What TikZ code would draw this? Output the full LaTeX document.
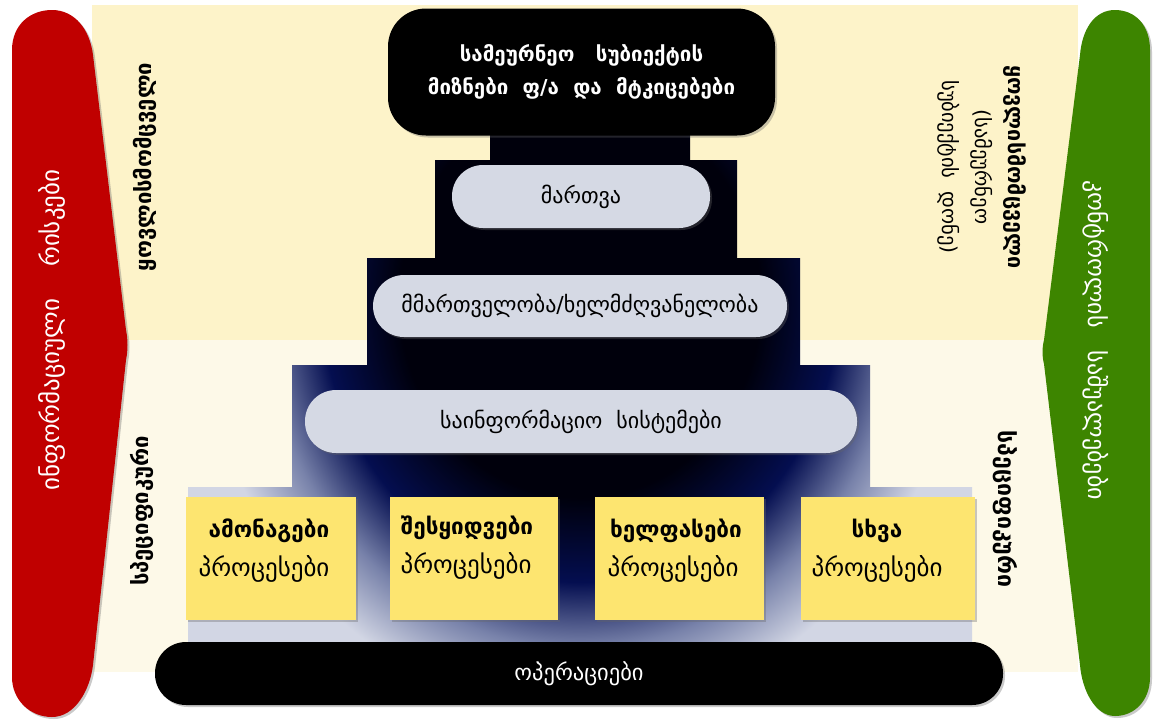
\documentclass[tikz,border=0pt]{standalone}
\usepackage{fontspec}
\setmainfont{DejaVu Sans}
\usetikzlibrary{shadows}
\definecolor{bandtop}{RGB}{253,243,201}
\definecolor{bandbot}{RGB}{253,249,232}
\definecolor{riskred}{RGB}{192,0,0}
\definecolor{ctrlgreen}{RGB}{61,133,0}
\definecolor{pillgray}{RGB}{213,217,228}
\definecolor{boxyellow}{RGB}{253,229,112}
\definecolor{pyrA}{RGB}{0,0,12}
\definecolor{pyrB}{RGB}{4,14,80}
\definecolor{pyrM}{RGB}{120,130,170}
\definecolor{pyrC}{RGB}{210,214,228}
\pgfdeclareradialshading{pyr}{\pgfpoint{0bp}{0bp}}{color(0bp)=(pyrA); color(10.5bp)=(pyrA); color(15bp)=(pyrB); color(18.5bp)=(pyrM); color(22bp)=(pyrC); color(50bp)=(pyrC)}
\tikzset{
  shad/.style={drop shadow={shadow xshift=2pt,shadow yshift=-2pt,opacity=0.35,fill=black!60}},
  blackbox/.style={fill=black, shad, text=white, align=center, inner sep=0pt},
  pill/.style={fill=pillgray, shad, rounded corners=31pt, inner sep=0pt, font=\fontsize{22}{26}\selectfont},
  ybox/.style={fill=boxyellow, shad, inner sep=0pt, minimum height=123pt},
  btxt/.style={font=\fontsize{22.5}{26}\selectfont\bfseries},
  rtxt/.style={font=\fontsize{25}{28}\selectfont},
  vtxt/.style={font=\fontsize{22}{26}\selectfont\bfseries, inner sep=0pt},
}
\begin{document}
\begin{tikzpicture}[x=1pt,y=-1pt]
\useasboundingbox (0,0) rectangle (1155,720);
% background bands
\fill[bandtop] (92,5) rectangle (1078,340);
\fill[bandbot] (92,340) rectangle (1078,672);
% pyramid
\begin{scope}
\clip (490,130) -- (690,130) -- (690,160) -- (737,160) -- (737,258) -- (800,258) -- (800,365) -- (870,365) -- (870,487) -- (972,487) -- (972,645) -- (188,645) -- (188,487) -- (292,487) -- (292,365) -- (367,365) -- (367,258) -- (435,258) -- (435,160) -- (490,160) -- cycle;
\shade[shading=pyr] (150,-170) rectangle (1010,770);
\end{scope}
% red and green side shapes
\path[fill=riskred, shad] (12,50) .. controls (12,25) and (30,10) .. (52,10) .. controls (75,10) and (90,30) .. (93,55) -- (126,330) .. controls (128,340) and (128,350) .. (126,360) -- (93,665) .. controls (90,690) and (75,717) .. (52,717) .. controls (30,717) and (12,700) .. (12,677) -- cycle;
\path[fill=ctrlgreen, shad] (1150,50) .. controls (1150,25) and (1135,10) .. (1115,10) .. controls (1094,10) and (1082,30) .. (1080,55) -- (1044,340) .. controls (1042,348) and (1042,356) .. (1044,364) -- (1080,665) .. controls (1082,690) and (1095,716) .. (1115,716) .. controls (1135,716) and (1150,700) .. (1150,677) -- cycle;
% top goal box
\node[blackbox, rounded corners=38pt, minimum width=387pt, minimum height=127pt, font=\fontsize{20.5}{33}\selectfont\bfseries] (goal) at (581.5,72) {სამეურნეო\ \ \ სუბიექტის\\მიზნები\ \ ფ/ა\ \ და\ \ მტკიცებები};
% pills
\node[pill, minimum width=258pt, minimum height=63pt] (mgmt) at (581,196.5) {მართვა};
\node[pill, minimum width=414pt, minimum height=62pt] (gov) at (580,306) {მმართველობა/ხელმძღვანელობა};
\node[pill, minimum width=552pt, minimum height=63pt] (info) at (581,421.5) {საინფორმაციო\ \ სისტემები};
% process boxes
\node[ybox, minimum width=170pt] (p1) at (271,558.5) {};
\node[ybox, minimum width=168pt] (p2) at (474,558.5) {};
\node[ybox, minimum width=169pt] (p3) at (679.5,558.5) {};
\node[ybox, minimum width=174pt] (p4) at (888,558.5) {};
\node[btxt] (p1a) at (269,531) {ამონაგები};
\node[rtxt] (p1b) at (264,569) {პროცესები};
\node[btxt] (p2a) at (467,528) {შესყიდვები};
\node[rtxt] (p2b) at (466,566) {პროცესები};
\node[btxt] (p3a) at (676,531) {ხელფასები};
\node[rtxt] (p3b) at (673,569) {პროცესები};
\node[btxt] (p4a) at (877,531) {სხვა};
\node[rtxt] (p4b) at (877,569) {პროცესები};
% operations
\node[blackbox, rounded corners=31pt, minimum width=848pt, minimum height=63pt, font=\fontsize{22.5}{26}\selectfont] (ops) at (579,673.5) {ოპერაციები};
% vertical texts
\node[vtxt, rotate=90] (lt) at (145,167) {ყოვლისმომცველი};
\node[vtxt, rotate=90] (lb) at (142,511) {სპეციფიკური};
\node[font=\fontsize{25}{28}\selectfont, rotate=90, text=white, inner sep=0pt] (risk) at (52,330) {ინფორმაციული\ \ \ \ რისკები};
\node[rotate=-90, align=center, inner sep=0pt, font=\fontsize{20.5}{33}\selectfont] (rt) at (982,167) {{\fontsize{21.5}{33}\selectfont\bfseries ყოვლისმომცველი}\\(სამეურნეო\\სუბიექტის\ \ დონე)};
\node[vtxt, rotate=-90, font=\fontsize{23}{26}\selectfont\bfseries] (rb) at (1005,509) {სპეციფიკური};
\node[font=\fontsize{24}{28}\selectfont, rotate=-90, text=white, inner sep=0pt] (ctrl) at (1096,340) {კონტროლის\ \ \ საშუალებები};
\end{tikzpicture}
\end{document}
